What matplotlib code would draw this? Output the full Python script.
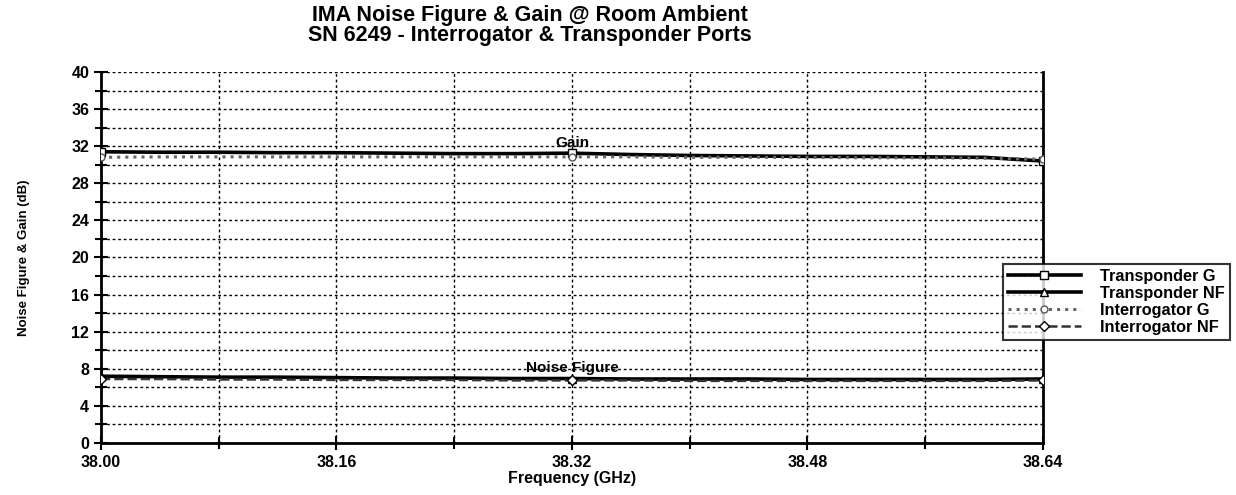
import matplotlib
matplotlib.use("Agg")
import matplotlib.pyplot as plt
from matplotlib.ticker import MultipleLocator, FixedLocator

plt.rcParams['font.family'] = ['Liberation Sans', 'DejaVu Sans']
plt.rcParams['font.weight'] = 'bold'

freq = [38.00, 38.04, 38.08, 38.12, 38.16, 38.20, 38.24, 38.28, 38.32,
        38.36, 38.40, 38.44, 38.48, 38.52, 38.56, 38.60, 38.64]
transponder_g = [31.4, 31.35, 31.35, 31.3, 31.3, 31.25, 31.2, 31.2, 31.25,
                 31.1, 31.0, 30.95, 30.9, 30.9, 30.85, 30.8, 30.4]
transponder_nf = [7.2, 7.15, 7.1, 7.1, 7.05, 7.0, 7.0, 6.95, 6.95,
                  6.9, 6.9, 6.9, 6.85, 6.85, 6.85, 6.85, 6.9]
interrogator_g = [30.8, 30.85, 30.85, 30.85, 30.85, 30.85, 30.85, 30.85, 30.85,
                  30.85, 30.8, 30.8, 30.8, 30.75, 30.75, 30.7, 30.6]
interrogator_nf = [6.9, 6.9, 6.85, 6.85, 6.8, 6.8, 6.8, 6.75, 6.75,
                   6.75, 6.7, 6.7, 6.7, 6.7, 6.7, 6.7, 6.75]

x_ticks = [38.00, 38.16, 38.32, 38.48, 38.64]
x_tick_labels = ["38.00", "38.16", "38.32", "38.48", "38.64"]
y_ticks = [0, 4, 8, 12, 16, 20, 24, 28, 32, 36, 40]
series_labels = ["Transponder G", "Transponder NF", "Interrogator G", "Interrogator NF"]

fig = plt.figure(figsize=(12.36, 4.95), dpi=100)
ax = fig.add_axes([101/1236, 1-443/495, (1043-101)/1236, (443-72)/495])

mk = [0, 8, 16]
ax.plot(freq, transponder_g, color='black', lw=2.6, ls='-', marker='s', ms=6,
        mfc='white', mec='black', markevery=mk, label=series_labels[0], zorder=4)
ax.plot(freq, transponder_nf, color='black', lw=2.6, ls='-', marker='^', ms=6,
        mfc='white', mec='black', markevery=mk, label=series_labels[1], zorder=4)
ax.plot(freq, interrogator_g, color='#666666', lw=2.2, ls=':', marker='o', ms=5,
        mfc='white', mec='#555555', markevery=mk, label=series_labels[2], zorder=5)
ax.plot(freq, interrogator_nf, color='#333333', lw=1.8, ls='--', marker='D', ms=5,
        mfc='white', mec='black', markevery=mk, label=series_labels[3], zorder=5)

ax.set_xlim(38.00, 38.64)
ax.set_ylim(0, 40)
ax.xaxis.set_major_locator(FixedLocator(x_ticks))
ax.set_xticklabels(x_tick_labels)
ax.xaxis.set_minor_locator(MultipleLocator(0.08))
ax.yaxis.set_major_locator(FixedLocator(y_ticks))
ax.yaxis.set_minor_locator(MultipleLocator(2))

ax.grid(True, which='both', axis='y', color='black', ls=(0, (2, 2)), lw=1.0)
ax.grid(True, which='both', axis='x', color='black', ls=(0, (2, 2)), lw=1.0)

ax.tick_params(axis='both', which='major', direction='inout', length=10, width=1.5,
               labelsize=11.5)
ax.tick_params(axis='both', which='minor', direction='inout', length=8, width=1.5)
for lab in ax.get_xticklabels() + ax.get_yticklabels():
    lab.set_fontweight('bold')

ax.spines['top'].set_visible(False)
for s in ['left', 'bottom', 'right']:
    ax.spines[s].set_linewidth(2)

ax.set_xlabel("Frequency (GHz)", fontsize=11.5, fontweight='bold', labelpad=1)
ax.set_ylabel("Noise Figure & Gain (dB)", fontsize=9.5, fontweight='bold', labelpad=30)

ax.text(38.32, 31.6, "Gain", ha='center', va='bottom', fontsize=11, fontweight='bold')
ax.text(38.32, 7.3, "Noise Figure", ha='center', va='bottom', fontsize=11, fontweight='bold')

fig.text(0.429, 0.99, "IMA Noise Figure & Gain @ Room Ambient\nSN 6249 - Interrogator & Transponder Ports",
         ha='center', va='top', fontsize=15.5, fontweight='bold', linespacing=0.95)

leg = fig.legend(loc='upper left', bbox_to_anchor=(1003/1236, 1-264/495),
                 fontsize=11.7, frameon=True, fancybox=False, edgecolor='black',
                 handlelength=4.5, handletextpad=1.2, labelspacing=0.12,
                 borderpad=0.3, borderaxespad=0)
leg.get_frame().set_linewidth(1.5)
for t in leg.get_texts():
    t.set_fontweight('bold')

fig.savefig("out.png", dpi=100)
